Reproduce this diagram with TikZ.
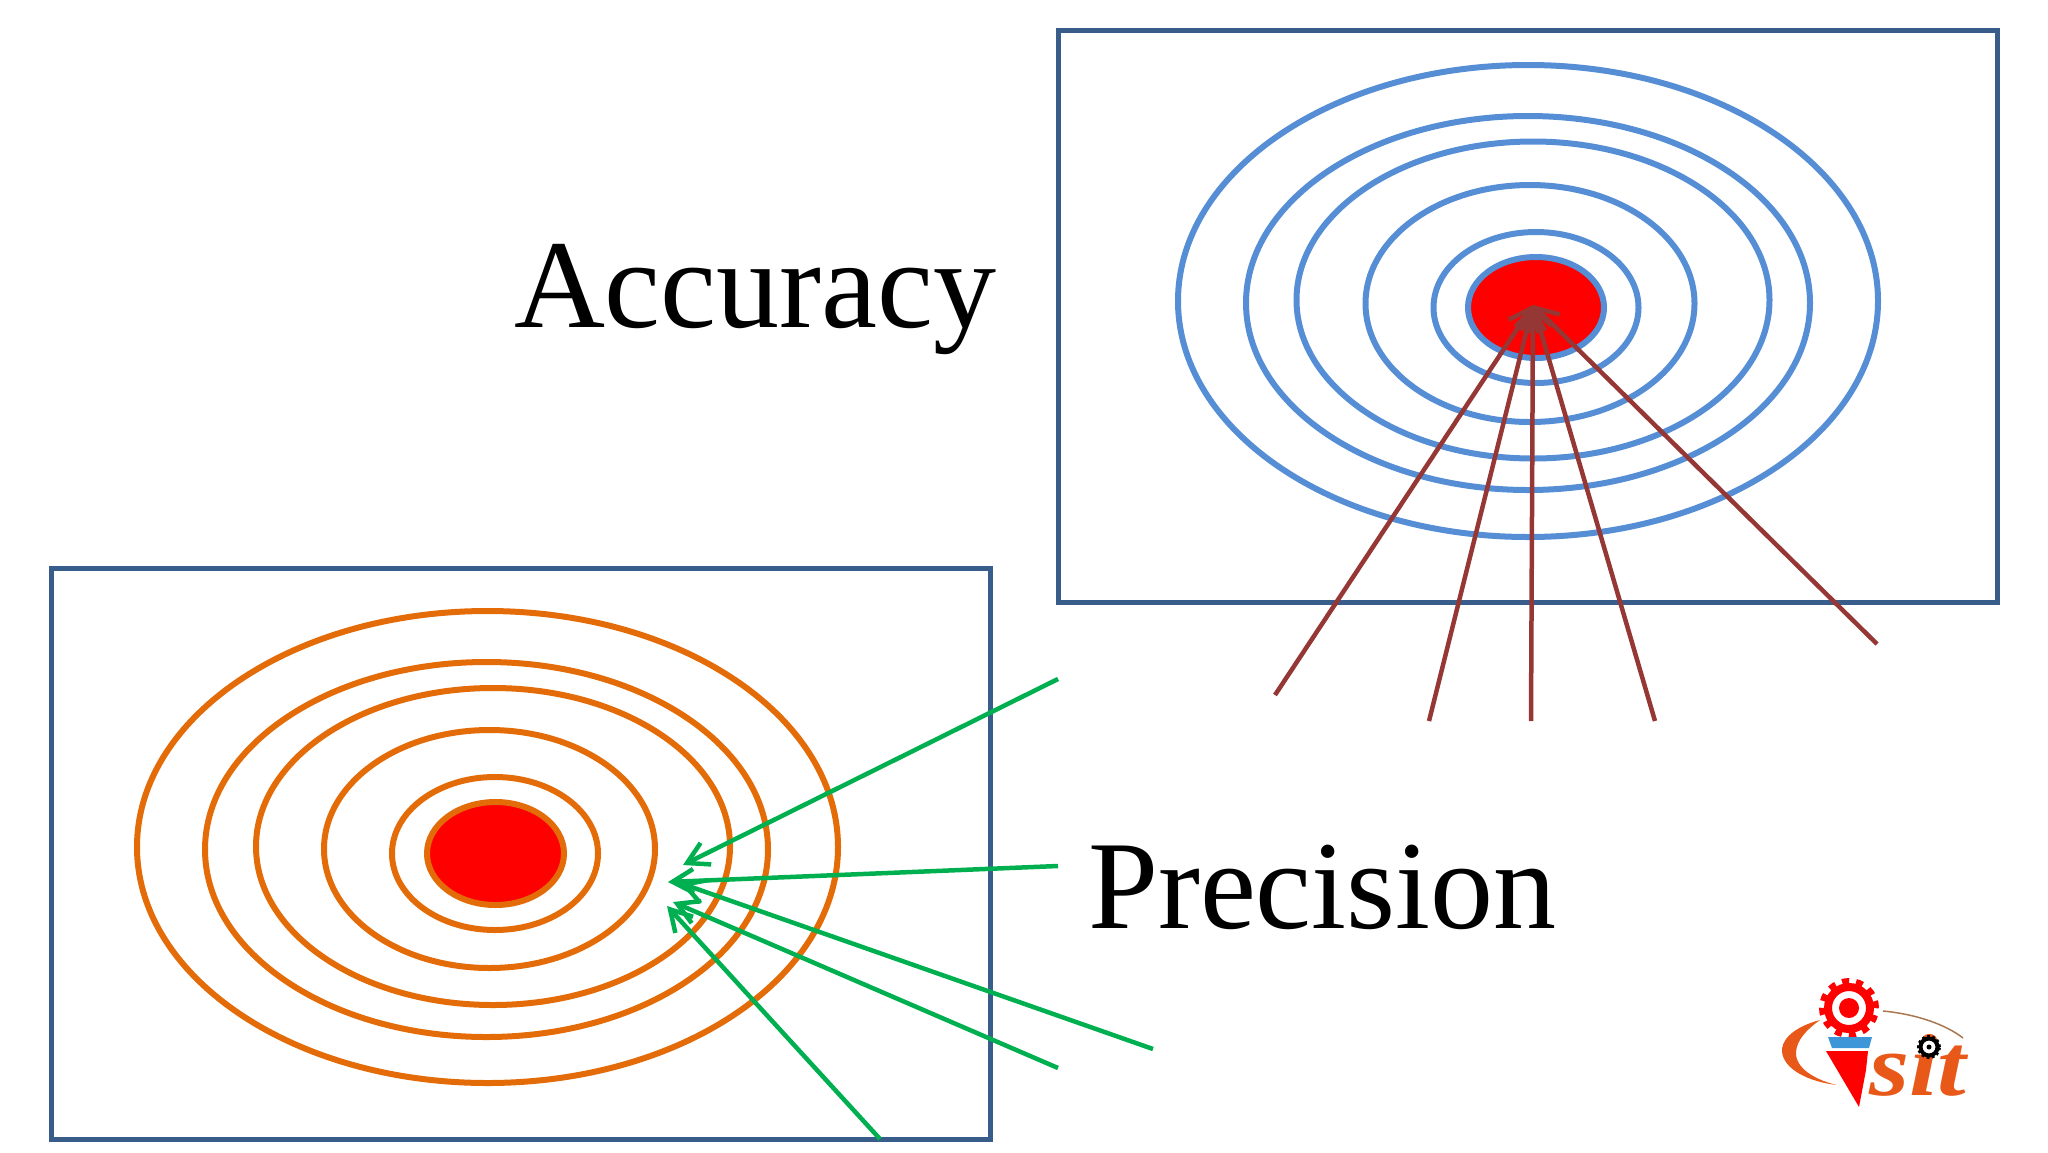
\documentclass[tikz,border=0pt]{standalone}
\usepackage{fontspec}
\setmainfont{Liberation Serif}
\usetikzlibrary{shapes.geometric, arrows.meta}
\definecolor{framenavy}{RGB}{56, 93, 138}
\definecolor{ringblue}{RGB}{85, 142, 213}
\definecolor{ringorange}{RGB}{227, 108, 9}
\definecolor{bullred}{RGB}{255, 0, 0}
\definecolor{shotbrown}{RGB}{149, 55, 53}
\definecolor{shotgreen}{RGB}{0, 176, 80}
\definecolor{logoorange}{RGB}{232, 88, 24}
\definecolor{logotan}{RGB}{170, 120, 80}
\definecolor{logoblue}{RGB}{60, 150, 215}
\tikzset{
  framebox/.style={draw=framenavy,line width=5pt,minimum width=#1,inner sep=0pt,outer sep=0pt},
  ring_blue/.style={ellipse,draw=ringblue,line width=6pt,inner sep=0pt,outer sep=0pt},
  ring_orange/.style={ellipse,draw=ringorange,line width=6pt,inner sep=0pt,outer sep=0pt},
  bigword/.style={anchor=base west,inner sep=0pt,outer sep=0pt,font=\fontsize{126}{150}\selectfont},
  shot_brown/.style={-{Straight Barb[length=21pt,width=24pt]},line width=4.5pt,shotbrown},
  shot_green/.style={-{Straight Barb[length=21pt,width=24pt]},line width=4.5pt,shotgreen}
}
\begin{document}
\begin{tikzpicture}[x=1pt,y=-1pt]
\useasboundingbox (0,0) rectangle (2048,1152);
% accuracy target
\node[framebox=939pt,minimum height=572pt] (accframe) at (1527.5,316) {};
\node[ring_blue,minimum width=700pt,minimum height=472pt] (acca) at (1528,301) {};
\node[ring_blue,minimum width=564pt,minimum height=374pt] (accb) at (1528,303) {};
\node[ring_blue,minimum width=473pt,minimum height=317pt] (accc) at (1533,300) {};
\node[ring_blue,minimum width=329pt,minimum height=237pt] (accd) at (1530,303.5) {};
\node[ring_blue,minimum width=205pt,minimum height=151pt] (acce) at (1536,307.5) {};
\node[ring_blue,fill=bullred,minimum width=136pt,minimum height=101pt] (accbull) at (1536,307.5) {};
% precision target
\node[framebox=939pt,minimum height=571pt] (preframe) at (520.5,853.5) {};
\node[ring_orange,minimum width=701pt,minimum height=472pt] (prea) at (487.5,847) {};
\node[ring_orange,minimum width=563pt,minimum height=375pt] (preb) at (486.5,849.5) {};
\node[ring_orange,minimum width=474pt,minimum height=317pt] (prec) at (493,846.5) {};
\node[ring_orange,minimum width=331pt,minimum height=238pt] (pred) at (489.5,849) {};
\node[ring_orange,minimum width=206pt,minimum height=153pt] (pree) at (495,853.5) {};
\node[ring_orange,fill=bullred,minimum width=137pt,minimum height=103pt] (prebull) at (495.5,853.5) {};
% labels
\node[bigword] (accword) at (514,327) {Accuracy};
\node[bigword] (preword) at (1088,928) {Precision};
% brown shots
\coordinate (acctip) at (1533,305);
\coordinate (accfroma) at (1275,695);
\coordinate (accfromb) at (1429,721);
\coordinate (accfromc) at (1531,721);
\coordinate (accfromd) at (1655,721);
\coordinate (accfrome) at (1877,644);
\draw[shot_brown] (accfroma) -- (acctip);
\draw[shot_brown] (accfromb) -- (acctip);
\draw[shot_brown] (accfromc) -- (acctip);
\draw[shot_brown] (accfromd) -- (acctip);
\draw[shot_brown] (accfrome) -- (acctip);
% green shots
\coordinate (pretipa) at (683,865);
\coordinate (pretipb) at (668,882);
\coordinate (pretipc) at (680,883);
\coordinate (pretipd) at (673,902);
\coordinate (pretipe) at (667,906);
\coordinate (prefroma) at (1058,679);
\coordinate (prefromb) at (1058,866);
\coordinate (prefromc) at (1153,1049);
\coordinate (prefromd) at (1058,1068);
\coordinate (prefrome) at (880,1139);
\draw[shot_green] (prefroma) -- (pretipa);
\draw[shot_green] (prefromb) -- (pretipb);
\draw[shot_green] (prefromc) -- (pretipc);
\draw[shot_green] (prefromd) -- (pretipd);
\draw[shot_green] (prefrome) -- (pretipe);
% logo
\fill[logoorange] (1820,1020) .. controls (1790,1028) and (1781,1042) .. (1782,1052) .. controls (1784,1070) and (1810,1082) .. (1837,1085) .. controls (1815,1080) and (1795,1068) .. (1796,1052) .. controls (1797,1040) and (1806,1030) .. (1820,1020) -- cycle;
\draw[logotan,line width=1.5pt] (1883,1011) .. controls (1915,1014) and (1945,1024) .. (1963,1038);
\node[circle,draw=bullred,line width=8pt,minimum size=42pt,inner sep=0pt,outer sep=0pt] (gearbig) at (1849,1008) {};
\draw[bullred,line width=6pt,dash pattern=on 7pt off 7.1pt] (gearbig.center) circle[radius=27pt];
\node[circle,fill=bullred,minimum size=20pt,inner sep=0pt,outer sep=0pt] (gearbighub) at (1849,1008) {};
\fill[logoblue] (1828,1037) -- (1872,1037) -- (1869,1048) -- (1832,1048) -- cycle;
\fill[bullred] (1826,1051) -- (1868,1051) -- (1866,1070) -- (1859,1107) -- cycle;
\node[anchor=base west,inner sep=0pt,outer sep=0pt,text=logoorange,xscale=1.17,font=\fontsize{88}{100}\selectfont\bfseries\itshape] (logoword) at (1869,1095) {sit};
\node[circle,draw=black,line width=4pt,minimum size=17pt,inner sep=0pt,outer sep=0pt,fill=white] (gearsmall) at (1929,1047) {};
\draw[black,line width=3pt,dash pattern=on 2.6pt off 2.6pt] (gearsmall.center) circle[radius=10.5pt];
\node[circle,fill=black,minimum size=5pt,inner sep=0pt,outer sep=0pt] (gearsmallhub) at (1929,1047) {};
\end{tikzpicture}
\end{document}
